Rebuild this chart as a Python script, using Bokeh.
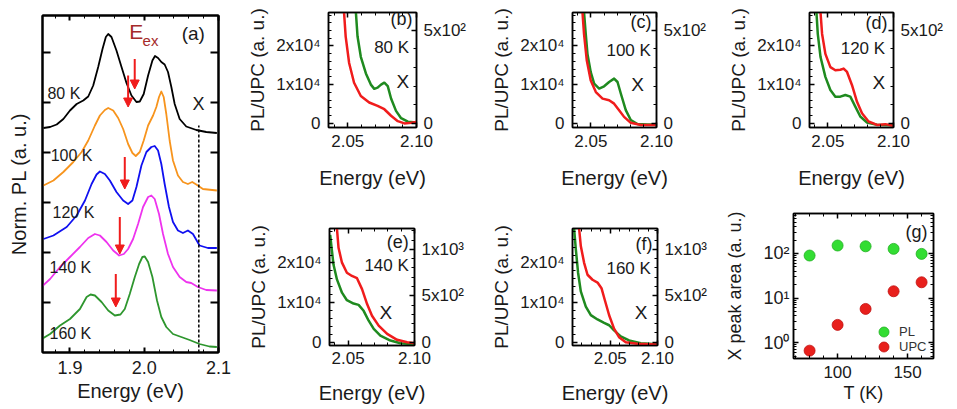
from bokeh.plotting import figure
from bokeh.layouts import row, column
from bokeh.models import (Range1d, LinearAxis, LogAxis, FixedTicker, Label, Arrow,
                          NormalHead, ColumnDataSource, Legend, LegendItem)
from bokeh.embed import file_html
from bokeh.resources import INLINE

FONT = "Liberation Sans"
TXT = "#1a1a1a"

# ---------------- panel (a): normalized PL spectra (offset) ----------------
a_temps = ["80 K", "100 K", "120 K", "140 K", "160 K"]
a_colors = ["#000000", "#f7941d", "#1010f0", "#ee33ee", "#2e962e"]

a_E_80 = [1.8643, 1.8732, 1.8821, 1.8911, 1.9000, 1.9090, 1.9179, 1.9246, 1.9313, 1.9380, 1.9438,
          1.9483, 1.9515, 1.9559, 1.9626, 1.9694, 1.9761, 1.9828, 1.9895, 1.9940, 1.9993, 2.0052,
          2.0110, 2.0145, 2.0186, 2.0230, 2.0275, 2.0320, 2.0365, 2.0410, 2.0477, 2.0566, 2.0701,
          2.0835, 2.0978]
a_I_80 = [4.49, 4.51, 4.56, 4.67, 4.84, 4.97, 5.04, 5.12, 5.34, 5.71, 6.07, 6.31, 6.37, 6.31, 6.04,
          5.71, 5.39, 5.14, 5.01, 5.02, 5.17, 5.54, 5.84, 5.93, 5.89, 5.81, 5.76, 5.61, 5.31, 4.97,
          4.67, 4.52, 4.45, 4.41, 4.39]

a_E_100 = [1.8643, 1.8777, 1.8911, 1.9045, 1.9157, 1.9246, 1.9336, 1.9403, 1.9470, 1.9515, 1.9582,
           1.9649, 1.9716, 1.9783, 1.9841, 1.9886, 1.9940, 1.9993, 2.0052, 2.0119, 2.0163, 2.0199,
           2.0230, 2.0262, 2.0297, 2.0342, 2.0387, 2.0454, 2.0521, 2.0588, 2.0646, 2.0701, 2.0790,
           2.0978]
a_I_100 = [3.34, 3.44, 3.61, 3.81, 4.01, 4.24, 4.54, 4.74, 4.85, 4.89, 4.84, 4.69, 4.47, 4.17, 3.99,
           3.93, 4.01, 4.24, 4.54, 4.74, 4.91, 5.11, 5.22, 5.11, 4.77, 4.24, 3.84, 3.54, 3.41, 3.37,
           3.41, 3.36, 3.27, 3.24]

a_E_120 = [1.8643, 1.8777, 1.8956, 1.9090, 1.9202, 1.9291, 1.9358, 1.9403, 1.9470, 1.9537, 1.9626,
           1.9716, 1.9783, 1.9841, 1.9895, 1.9962, 2.0029, 2.0096, 2.0141, 2.0186, 2.0230, 2.0275,
           2.0333, 2.0387, 2.0454, 2.0521, 2.0588, 2.0656, 2.0745, 2.0857, 2.0978]
a_I_120 = [2.27, 2.34, 2.51, 2.74, 3.04, 3.37, 3.56, 3.62, 3.57, 3.44, 3.21, 3.04, 2.97, 3.04, 3.31,
           3.74, 4.01, 4.11, 4.13, 4.04, 3.77, 3.37, 2.91, 2.61, 2.44, 2.39, 2.44, 2.37, 2.14, 2.09,
           2.09]

a_E_140 = [1.8621, 1.8732, 1.8866, 1.9000, 1.9134, 1.9246, 1.9336, 1.9403, 1.9492, 1.9582, 1.9662,
           1.9725, 1.9783, 1.9850, 1.9917, 1.9984, 2.0052, 2.0096, 2.0141, 2.0199, 2.0253, 2.0320,
           2.0387, 2.0477, 2.0566, 2.0633, 2.0722, 2.0835, 2.0978]
a_I_140 = [1.32, 1.47, 1.71, 1.91, 2.11, 2.29, 2.37, 2.34, 2.21, 2.04, 1.94, 1.97, 2.07, 2.27, 2.57,
           2.91, 3.11, 3.14, 3.07, 2.77, 2.37, 1.97, 1.71, 1.51, 1.41, 1.39, 1.31, 1.25, 1.24]

a_E_160 = [1.8621, 1.8732, 1.8866, 1.9000, 1.9134, 1.9224, 1.9277, 1.9336, 1.9425, 1.9515, 1.9604,
           1.9680, 1.9738, 1.9805, 1.9873, 1.9931, 1.9975, 2.0007, 2.0052, 2.0110, 2.0172, 2.0230,
           2.0297, 2.0387, 2.0499, 2.0611, 2.0745, 2.0879, 2.0978]
a_I_160 = [0.27, 0.37, 0.54, 0.67, 0.87, 1.11, 1.16, 1.14, 1.01, 0.84, 0.74, 0.76, 0.87, 1.17, 1.51,
           1.77, 1.91, 1.92, 1.81, 1.51, 1.04, 0.71, 0.51, 0.37, 0.31, 0.25, 0.17, 0.12, 0.11]

# excitation energy arrows (E_ex) and X line
a_Eex = [1.9872, 1.9783, 1.9738, 1.9671, 1.9617]
a_arrow_top = [5.87, 5.54, 3.91, 2.71, 1.57]
a_arrow_tip = [5.27, 4.91, 3.27, 1.97, 0.91]
a_X_energy = 2.0735
a_X_line_top = 4.54

# ---------------- panels (b)-(f): PL (left axis) and UPC (right axis) ----------------
b_E_pl = [2.0559, 2.0571, 2.0595, 2.0632, 2.0668, 2.0693, 2.0717, 2.0742, 2.0766, 2.0791, 2.0815,
          2.0851, 2.0888, 2.0937, 2.0998]
b_pl = [28800, 22500, 17200, 12900, 10000, 8900, 9200, 10000, 10500, 9600, 6400, 3200, 1300, 400, 200]
b_E_upc = [2.0473, 2.0485, 2.0510, 2.0546, 2.0595, 2.0656, 2.0717, 2.0766, 2.0815, 2.0864, 2.0912,
           2.0961, 2.0998]
b_upc = [595, 466, 324, 218, 147, 112, 94, 76, 41, 12, 0, 3, 8]

c_E_pl = [2.0448, 2.0461, 2.0474, 2.0499, 2.0525, 2.0563, 2.0601, 2.0639, 2.0677, 2.0703, 2.0728,
          2.0766, 2.0804, 2.0855, 2.0931, 2.0995]
c_pl = [28650, 23077, 17949, 13231, 10256, 8974, 9564, 10667, 11538, 10667, 7692, 3410, 846, -200,
        -350, -350]
c_E_upc = [2.0436, 2.0448, 2.0469, 2.0499, 2.0538, 2.0589, 2.0639, 2.0677, 2.0715, 2.0753, 2.0804,
           2.0880, 2.0995]
c_upc = [595, 479, 337, 230, 168, 133, 124, 106, 71, 35, 3, -9, -9]

d_E_pl = [2.0413, 2.0423, 2.0444, 2.0481, 2.0519, 2.0557, 2.0595, 2.0633, 2.0671, 2.0709, 2.0747,
          2.0798, 2.0874, 2.0995]
d_pl = [28650, 23128, 17128, 12000, 8590, 6872, 6872, 7308, 6872, 4308, 1744, 205, -385, -500]
d_E_upc = [2.0444, 2.0456, 2.0481, 2.0519, 2.0557, 2.0595, 2.0620, 2.0646, 2.0684, 2.0722, 2.0760,
           2.0810, 2.0874, 2.0937, 2.0995]
d_upc = [595, 480, 373, 302, 285, 288, 294, 276, 205, 116, 54, 10, -8, -4, -13]

e_E_pl = [2.0365, 2.0390, 2.0416, 2.0454, 2.0491, 2.0541, 2.0579, 2.0617, 2.0655, 2.0693, 2.0743,
          2.0819, 2.0894, 2.1000]
e_pl = [27100, 19600, 15850, 12500, 10600, 9750, 9425, 7925, 5425, 3350, 1675, 425, -250, -500]
e_E_upc = [2.0416, 2.0428, 2.0454, 2.0491, 2.0529, 2.0567, 2.0605, 2.0643, 2.0680, 2.0730, 2.0794,
           2.0869, 2.0945, 2.1000]
e_upc = [1225, 1017, 857, 749, 714, 690, 572, 411, 286, 179, 90, 26, 0, -11]

f_E_pl = [2.0117, 2.0135, 2.0159, 2.0188, 2.0241, 2.0294, 2.0365, 2.0435, 2.0488, 2.0540, 2.0611,
          2.0699, 2.0823, 2.1000]
f_pl = [28700, 23513, 17538, 12821, 8974, 6846, 5744, 4872, 4282, 3000, 1462, 436, -256, -500]
f_E_upc = [2.0170, 2.0188, 2.0223, 2.0259, 2.0312, 2.0365, 2.0407, 2.0442, 2.0488, 2.0540, 2.0593,
           2.0664, 2.0788, 2.1000]
f_upc = [1225, 1036, 855, 727, 673, 643, 582, 455, 291, 146, 55, 0, -17, -25]

# ---------------- panel (g): X peak area vs T ----------------
g_T = [80, 100, 120, 140, 160]
g_pl = [90, 151, 145, 127, 98]
g_upc = [0.66, 2.5, 5.7, 14.2, 22.6]

# ---------------- ticks / labels ----------------
a_xticks = [1.9, 2.0, 2.1]
a_xminor = [1.88, 1.92, 1.94, 1.96, 1.98, 2.02, 2.04, 2.06, 2.08]
a_xlabels = {1.9: "1.9", 2.0: "2.0", 2.1: "2.1"}
a_yticks = [1, 2, 3, 4, 5, 6]

e_xticks = [2.05, 2.1]
e_xminor = [2.01, 2.02, 2.03, 2.04, 2.06, 2.07, 2.08, 2.09]
e_xlabels = {2.05: "2.05", 2.1: "2.10"}
pl_ticks = [0, 10000, 20000]
pl_minor = [2000, 4000, 6000, 8000, 12000, 14000, 16000, 18000, 22000, 24000, 26000, 28000]
pl_labels = {0: "0", 10000: "1x10\u2074", 20000: "2x10\u2074"}
upc_ticks_top = [0, 500]
upc_labels_top = {0: "0", 500: "5x10\u00b2"}
upc_ticks_bot = [0, 500, 1000]
upc_labels_bot = {0: "0", 500: "5x10\u00b2", 1000: "1x10\u00b3"}
upc_minor = [100, 200, 300, 400, 600, 700, 800, 900, 1100, 1200]

g_xticks = [100, 150]
g_xminor = [70, 80, 90, 110, 120, 130, 140, 160]
g_yticks = [1, 10, 100]
g_yminor = [0.5, 0.6, 0.7, 0.8, 0.9, 2, 3, 4, 5, 6, 7, 8, 9, 20, 30, 40, 50, 60, 70, 80, 90,
            200, 300, 400, 500, 600, 700]
g_ylabels = {1: "10\u2070", 10: "10\u00b9", 100: "10\u00b2"}

RED = "#f01c1c"
GREEN = "#1f8a1f"


def style(ax, fs="17px", show=True, lw=1.5, tin=5, mtin=3):
    ax.axis_line_color = "black"
    ax.axis_line_width = lw
    ax.major_tick_line_color = "black"
    ax.major_tick_line_width = lw
    ax.minor_tick_line_color = "black"
    ax.minor_tick_line_width = 1
    ax.major_tick_in = tin
    ax.major_tick_out = 0
    ax.minor_tick_in = mtin
    ax.minor_tick_out = 0
    ax.major_label_text_font = FONT
    ax.major_label_text_font_size = fs
    ax.major_label_text_color = TXT
    if not show:
        ax.major_label_text_color = None
        ax.major_label_text_font_size = "2px"
        ax.major_label_standoff = 0
    ax.axis_label_text_font = FONT
    ax.axis_label_text_font_style = "normal"
    ax.axis_label_text_color = TXT


def base_fig(w, h, xr, yr, bl, br, bt, bb, ylog=False):
    p = figure(width=w, height=h, x_range=Range1d(*xr), y_range=Range1d(*yr),
               y_axis_type="log" if ylog else "linear",
               min_border_left=bl, min_border_right=br, min_border_top=bt, min_border_bottom=bb,
               output_backend="svg", toolbar_location=None)
    p.xgrid.visible = False
    p.ygrid.visible = False
    p.outline_line_color = "black"
    p.outline_line_width = 1.5
    p.background_fill_color = "white"
    p.border_fill_color = "white"
    return p


def lab(p, x, y, text, size, align="right", color=TXT):
    p.add_layout(Label(x=x, y=y, text=text, text_font=FONT, text_font_size=size,
                       text_color=color, text_align=align, text_baseline="middle"))


# ================= panel (a) =================
AX = (1.863, 2.1)
AY = (0, 6.74)
pa = base_fig(240, 408, AX, AY, 42, 22, 15, 56)
pa.outline_line_width = 2
xa = pa.below[0]
xa.ticker = FixedTicker(ticks=a_xticks, minor_ticks=a_xminor)
xa.major_label_overrides = a_xlabels
style(xa, fs="18px", lw=2)
xa.major_label_standoff = 8
xa.axis_label = "Energy (eV)"
xa.axis_label_text_font_size = "20px"
xa.axis_label_standoff = 3
ya = pa.left[0]
ya.ticker = FixedTicker(ticks=a_yticks, minor_ticks=[])
style(ya, show=False, lw=2, tin=8)
ya.axis_label = "Norm. PL (a. u.)"
ya.axis_label_text_font_size = "20px"
ya.axis_label_standoff = 13
ta = LinearAxis(ticker=FixedTicker(ticks=a_xticks, minor_ticks=a_xminor))
style(ta, show=False, lw=2)
pa.add_layout(ta, "above")
ra = LinearAxis(ticker=FixedTicker(ticks=a_yticks, minor_ticks=[]))
style(ra, show=False, lw=2, tin=8)
pa.add_layout(ra, "right")

curves = [(a_E_80, a_I_80), (a_E_100, a_I_100), (a_E_120, a_I_120), (a_E_140, a_I_140),
          (a_E_160, a_I_160)]
for (E, I), col in zip(curves, a_colors):
    pa.line(E, I, line_color=col, line_width=1.8, line_join="round")

pa.segment(x0=[a_X_energy], y0=[AY[0]], x1=[a_X_energy], y1=[a_X_line_top],
           line_color="black", line_width=1.5, line_dash="3 2")

arr_src = ColumnDataSource(dict(x=a_Eex, y0=a_arrow_top, y1=a_arrow_tip))
pa.add_layout(Arrow(end=NormalHead(size=9, fill_color=RED, line_color=RED, line_width=1),
                    x_start="x", y_start="y0", x_end="x", y_end="y1", source=arr_src,
                    line_color=RED, line_width=2))

a_lab_pos = [(1.8697, 5.18), (1.874, 3.94), (1.8765, 2.80), (1.8724, 1.70), (1.8724, 0.38)]
for (x, y), t in zip(a_lab_pos, a_temps):
    lab(pa, x, y, t, "16px", align="left")
lab(pa, 2.066, 6.38, "(a)", "19px", align="center")
lab(pa, 2.073, 4.97, "X", "18px", align="center")
lab(pa, 1.9798, 6.42, "E", "21px", align="left", color="#a52a2a")
lab(pa, 1.9978, 6.24, "ex", "15px", align="left", color="#a52a2a")


# ================= panels (b)-(f) =================
def spec_panel(w, h, bl, br, bt, bb, xr, yl, yr, E_pl, pl, E_upc, upc, upc_ticks, upc_labels,
               tag, temp, pos, tsd, asd):
    p = base_fig(w, h, xr, yl, bl, br, bt, bb)
    p.extra_y_ranges = {"upc": Range1d(*yr)}
    xb = p.below[0]
    xb.ticker = FixedTicker(ticks=e_xticks, minor_ticks=e_xminor)
    xb.major_label_overrides = e_xlabels
    style(xb)
    xb.major_label_standoff = tsd
    xb.axis_label = "Energy (eV)"
    xb.axis_label_text_font_size = "20px"
    xb.axis_label_standoff = asd
    yb = p.left[0]
    yb.ticker = FixedTicker(ticks=pl_ticks, minor_ticks=pl_minor)
    yb.major_label_overrides = pl_labels
    style(yb)
    yb.major_label_standoff = 8
    yb.axis_label = "PL/UPC (a. u.)"
    yb.axis_label_text_font_size = "19px"
    yb.axis_label_standoff = 5
    top = LinearAxis(ticker=FixedTicker(ticks=e_xticks, minor_ticks=e_xminor))
    style(top, show=False)
    p.add_layout(top, "above")
    right = LinearAxis(y_range_name="upc",
                       ticker=FixedTicker(ticks=upc_ticks, minor_ticks=upc_minor))
    right.major_label_overrides = upc_labels
    style(right)
    right.major_label_standoff = 7
    p.add_layout(right, "right")
    p.line(E_pl, pl, line_color=GREEN, line_width=2.5, line_join="round")
    p.line(E_upc, upc, line_color=RED, line_width=2.5, line_join="round", y_range_name="upc")

    def fx(f):
        return xr[0] + f * (xr[1] - xr[0])

    def fy(f):
        return yl[0] + f * (yl[1] - yl[0])
    (tx, ty), (mx, my), (xx, xy) = pos
    lab(p, fx(tx), fy(ty), tag, "18px")
    lab(p, fx(mx), fy(my), temp, "17px")
    lab(p, fx(xx), fy(xy), "X", "19px")
    return p


TOP_L = (-1100, 28650)
TOP_R = (-22, 595)
BOT_L = (-830, 28700)
BOT_R = (-35, 1225)
XR = (2.036, 2.10)
XRF = (2.01, 2.10)

pb = spec_panel(245, 200, 88, 69, 12, 73, XR, TOP_L, TOP_R, b_E_pl, b_pl, b_E_upc, b_upc,
                upc_ticks_top, upc_labels_top, "(b)", "80 K",
                [(0.954, 0.943), (0.916, 0.696), (0.916, 0.404)], 7, 17)
pc = spec_panel(235, 200, 87, 64, 12, 73, XR, TOP_L, TOP_R, c_E_pl, c_pl, c_E_upc, c_upc,
                upc_ticks_top, upc_labels_top, "(c)", "100 K",
                [(0.94, 0.915), (0.933, 0.67), (0.85, 0.375)], 7, 17)
pd = spec_panel(236, 200, 89, 63, 12, 73, XR, TOP_L, TOP_R, d_E_pl, d_pl, d_E_upc, d_upc,
                upc_ticks_top, upc_labels_top, "(d)", "120 K",
                [(0.929, 0.905), (0.9, 0.69), (0.9, 0.395)], 7, 17)
pe = spec_panel(245, 208, 89, 71, 28, 63, XR, BOT_L, BOT_R, e_E_pl, e_pl, e_E_upc, e_upc,
                upc_ticks_bot, upc_labels_bot, "(e)", "140 K",
                [(0.933, 0.886), (0.933, 0.686), (0.736, 0.286)], 6, 15)
pf = spec_panel(235, 208, 87, 63, 28, 63, XRF, BOT_L, BOT_R, f_E_pl, f_pl, f_E_upc, f_upc,
                upc_ticks_bot, upc_labels_bot, "(f)", "160 K",
                [(0.941, 0.871), (0.922, 0.657), (0.882, 0.286)], 6, 15)

# ================= panel (g) =================
GX = (68.5, 168.5)
GY = (0.44, 790)
pg = base_fig(236, 208, GX, GY, 73, 23, 13, 50, ylog=True)
xg = pg.below[0]
xg.ticker = FixedTicker(ticks=g_xticks, minor_ticks=g_xminor)
style(xg)
xg.major_label_standoff = 7
xg.axis_label = "T (K)"
xg.axis_label_text_font_size = "18px"
xg.axis_label_standoff = 2
yg = pg.left[0]
yg.ticker = FixedTicker(ticks=g_yticks, minor_ticks=g_yminor)
yg.major_label_overrides = g_ylabels
style(yg, fs="18px")
yg.major_label_standoff = 4
yg.axis_label = "X peak area (a. u.)"
yg.axis_label_text_font_size = "18px"
yg.axis_label_standoff = 15
tg = LinearAxis(ticker=FixedTicker(ticks=g_xticks, minor_ticks=g_xminor))
style(tg, show=False)
pg.add_layout(tg, "above")
rg = LogAxis(ticker=FixedTicker(ticks=g_yticks, minor_ticks=g_yminor))
style(rg, show=False)
pg.add_layout(rg, "right")

r_pl = pg.scatter(g_T, g_pl, size=11, fill_color="#33dd33", line_color="#22b022", line_width=0.8)
r_upc = pg.scatter(g_T, g_upc, size=11, fill_color="#e8201c", line_color="#c01010", line_width=0.8)
for item_label, rend, loc in (("PL", r_pl, (78, 14)), ("UPC", r_upc, (78, -1))):
    leg = Legend(items=[LegendItem(label=item_label, renderers=[rend])],
                 location=loc, orientation="vertical", border_line_color=None,
                 background_fill_alpha=0, glyph_width=25, glyph_height=25, spacing=0,
                 padding=0, margin=0, label_standoff=3, label_text_font=FONT,
                 label_text_font_size="13px", label_text_color="#333333",
                 label_height=25)
    pg.add_layout(leg)
lab(pg, GX[0] + 0.957 * (GX[1] - GX[0]), 10 ** (-0.3565 + 0.874 * 3.2541), "(g)", "18px")

layout = row(pa, column(row(pb, pc, pd), row(pe, pf, column(pg))))
open("out.html", "w").write(file_html(layout, INLINE, title="PL and UPC spectra"))
